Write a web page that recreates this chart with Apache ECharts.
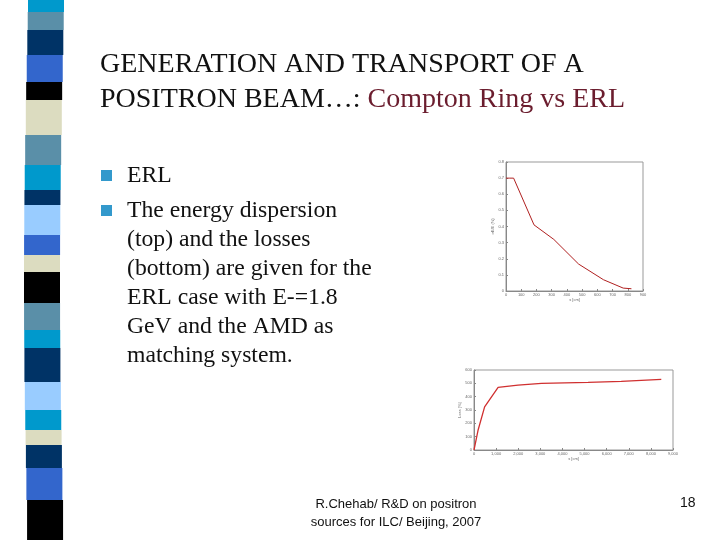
<!DOCTYPE html>
<html><head><meta charset="utf-8">
<script src="https://cdn.jsdelivr.net/npm/echarts@6/dist/echarts.min.js"></script>
<style>html,body{margin:0;padding:0;background:#fff}#c{width:720px;height:540px}</style>
</head><body><div id="c"></div>
<script>
// Top chart: energy dispersion vs s
const topX = [0, 10, 25, 50, 184, 314, 477, 640, 770, 824];
const topY = [0.70, 0.71, 0.70, 0.70, 0.41, 0.32, 0.167, 0.07, 0.018, 0.014];
// Bottom chart: losses vs s
const botX = [0, 180, 480, 1090, 1990, 3050, 5160, 6660, 8470];
const botY = [0, 146, 323, 469, 487, 499, 507, 514, 529];

const stripeColors = ['#0099cc','#5a8fa8','#003366','#3366cc','#000000','#dcdcc0','#5a8fa8','#0099cc','#003366','#99ccff','#3366cc','#dcdcc0','#000000','#5a8fa8','#0099cc','#003366','#99ccff','#0099cc','#dcdcc0','#003366','#3366cc','#000000'];
const stripeEdges = [0,12,30,55,82,100,135,165,190,205,235,255,272,303,330,348,382,410,430,445,468,500,540];

const graphic = [];
stripeColors.forEach((c,i)=>{
  const y0 = stripeEdges[i], y1 = stripeEdges[i+1];
  const xl = 28 - 4*Math.sin(Math.PI*y0/540);
  graphic.push({type:'rect', shape:{x:xl, y:y0, width:36, height:y1-y0}, style:{fill:c}});
});
const tf = '28px "Liberation Serif"';
graphic.push({type:'text', x:100, y:65, style:{text:'GENERATION AND TRANSPORT OF A', font:tf, fill:'#111', verticalAlign:'middle'}});
graphic.push({type:'text', x:100, y:100, style:{rich:{a:{font:tf, fill:'#111'}, b:{font:tf, fill:'#6b1d2e'}}, text:'{a|POSITRON BEAM…: }{b|Compton Ring vs ERL}', verticalAlign:'middle'}});
graphic.push({type:'rect', shape:{x:101, y:170, width:11, height:11}, style:{fill:'#3399cc'}});
graphic.push({type:'rect', shape:{x:101, y:205, width:11, height:11}, style:{fill:'#3399cc'}});
const bf = '23.7px "Liberation Serif"';
graphic.push({type:'text', x:127, y:176, style:{text:'ERL', font:bf, fill:'#111', verticalAlign:'middle'}});
graphic.push({type:'text', x:127, y:196, style:{text:'The energy dispersion\n(top) and the losses\n(bottom) are given for the\nERL case with E-=1.8\nGeV and the AMD as\nmatching system.', font:bf, lineHeight:29, fill:'#111'}});
graphic.push({type:'text', x:396, y:495, style:{text:'R.Chehab/ R&D on positron\nsources for ILC/ Beijing, 2007', font:'13px "Liberation Sans"', lineHeight:18, fill:'#111', align:'center'}});
graphic.push({type:'text', x:680, y:496, style:{text:'18', font:'14px "Liberation Sans"', fill:'#111'}});

const ax = {axisLine:{lineStyle:{color:'#888'}}, axisTick:{inside:true,length:2,lineStyle:{color:'#888'}}, axisLabel:{fontSize:4,color:'#666',margin:2}, splitLine:{show:false}};
const option = {
  animation:false,
  graphic,
  grid:[
    {left:506, top:162, width:137, height:129, show:true, borderColor:'#999', backgroundColor:'#fff'},
    {left:474, top:370, width:199, height:80, show:true, borderColor:'#999', backgroundColor:'#fff'}
  ],
  xAxis:[
    Object.assign({type:'value', gridIndex:0, min:0, max:900, interval:100, name:'s [cm]', nameLocation:'middle', nameGap:6, nameTextStyle:{fontSize:4,color:'#666'}}, ax),
    Object.assign({type:'value', gridIndex:1, min:0, max:9000, interval:1000, name:'s [cm]', nameLocation:'middle', nameGap:6, nameTextStyle:{fontSize:4,color:'#666'}}, ax)
  ],
  yAxis:[
    Object.assign({type:'value', gridIndex:0, min:0, max:0.8, interval:0.1, name:'σE/E (%)', nameLocation:'middle', nameGap:10, nameTextStyle:{fontSize:4,color:'#666'}}, ax),
    Object.assign({type:'value', gridIndex:1, min:0, max:600, interval:100, name:'Loss [%]', nameLocation:'middle', nameGap:10, nameTextStyle:{fontSize:4,color:'#666'}}, ax)
  ],
  series:[
    {type:'line', xAxisIndex:0, yAxisIndex:0, data:topX.map((x,i)=>[x,topY[i]]), showSymbol:false, lineStyle:{color:'#b02020', width:1}},
    {type:'line', xAxisIndex:1, yAxisIndex:1, data:botX.map((x,i)=>[x,botY[i]]), showSymbol:false, lineStyle:{color:'#d03030', width:1.3}}
  ]
};
echarts.init(document.getElementById('c')).setOption(option);
</script></body></html>
